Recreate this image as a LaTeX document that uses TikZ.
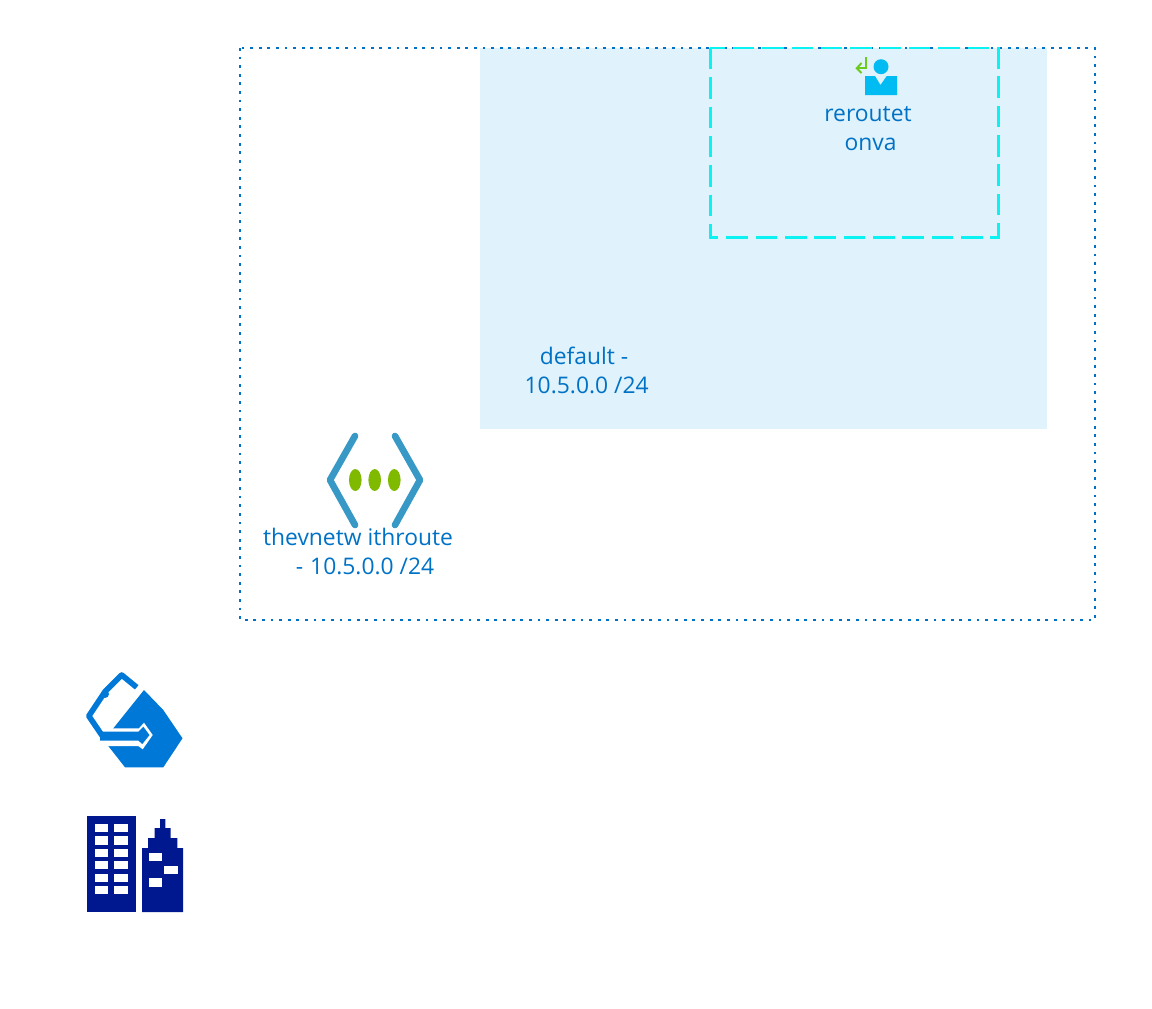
\documentclass[tikz,border=0pt]{standalone}
\usepackage{fontspec}
\setmainfont{Open Sans}
\definecolor{labelblue}{HTML}{0072C6}
\definecolor{subnetblue}{HTML}{E0F2FB}
\definecolor{dashcyan}{HTML}{0AF2F2}
\definecolor{chevronblue}{HTML}{3999C6}
\definecolor{dotgreen}{HTML}{7FBA00}
\definecolor{personblue}{HTML}{00BCF2}
\definecolor{arrowgreen}{HTML}{6CCB1E}
\definecolor{gatewayblue}{HTML}{0078D7}
\definecolor{buildingblue}{HTML}{00188F}
\tikzset{
    label text/.style={text=labelblue, font=\fontsize{13pt}{16.4pt}\selectfont, align=center, inner sep=0pt},
    chevron/.style={chevronblue, line width=3.8pt, line cap=round, line join=round},
    window/.style={fill=white, draw=none},
}
\begin{document}
\begin{tikzpicture}[x=0.02cm, y=-0.02cm]
    \useasboundingbox (0,0) rectangle (1152,1008);
    \fill[subnetblue] (480,48) rectangle (1047,429);
    \draw[labelblue, line width=1.6pt, dash pattern=on 1.6pt off 3.3pt] (240,48) rectangle (1095,620);
    \draw[dashcyan, line width=1.7pt, dash pattern=on 12.2pt off 4.5pt] (710,48) rectangle (998,237);
    \fill[personblue] (881,66.7) circle [radius=7.5];
    \fill[personblue] (865,76) -- (875,76) -- (880.5,85) -- (886.7,76) -- (897,76) -- (897,95) -- (865,95) -- cycle;
    \draw[arrowgreen, line width=1.1pt] (866,57) -- (866,68.3) -- (857,68.3);
    \draw[arrowgreen, line width=1.1pt] (861.5,63) -- (856.7,68.3) -- (861.5,73);
    \node[label text] (reroute) at (868,128.5) {reroutet\\\hspace*{3pt}onva};
    \node[label text] (default) at (584,370.5) {default -\\\hspace*{3pt}10.5.0.0 /24};
    \draw[chevron] (355,436) -- (330,480) -- (355,525);
    \draw[chevron] (395,436) -- (420,480) -- (395,525);
    \foreach \dotx in {355.3,374.7,394.3}
        \fill[dotgreen] (\dotx,480) ellipse [x radius=6.3, y radius=11];
    \node[label text] (vnet) at (358,551.5) {thevnetw ithroute\\\hspace*{8pt}-\hspace{4pt}10.5.0.0 /24};
    \fill[gatewayblue] (144,690) -- (163.3,710) -- (182.5,738.3) -- (163.3,767.3) -- (125,767.3) -- (108.3,746) -- (113.3,728.3) -- cycle;
    \fill[white] (113.3,728.3) -- (139,728.3) -- (144,722.7) -- (152.7,735) -- (142.7,749.3) -- (138.3,746) -- (108.3,746) -- (103.3,738) -- cycle;
    \fill[gatewayblue] (100,731.7) -- (138.3,731.7) -- (143.3,726.7) -- (149.5,735) -- (142.3,744) -- (138.3,740.5) -- (100,740.5) -- cycle;
    \draw[gatewayblue, line width=3.2pt, line join=round] (136.7,687.3) -- (121.7,675) -- (105,691.7) -- (88.8,716) -- (103.3,737.3);
    \fill[gatewayblue] (105,694) circle [radius=4];
    \fill[buildingblue] (87,816) rectangle (136,912);
    \foreach \winy/\winh in {824/8,836/9,849/8,861/8,874/8,886/8} {
        \fill[window] (95,\winy) rectangle ++(13.3,\winh);
        \fill[window] (114,\winy) rectangle ++(14,\winh);
    }
    \fill[buildingblue] (142,912) -- (142,848) -- (148,848) -- (148,838) -- (154.7,838) -- (154.7,828) -- (160,828) -- (160,819) -- (165.3,819) -- (165.3,828) -- (170.7,828) -- (170.7,838) -- (177.3,838) -- (177.3,848) -- (183,848) -- (183,912) -- cycle;
    \fill[window] (149,853) rectangle (162,861);
    \fill[window] (164,866) rectangle (178,874);
    \fill[window] (149,878) rectangle (162,887);
\end{tikzpicture}
\end{document}
